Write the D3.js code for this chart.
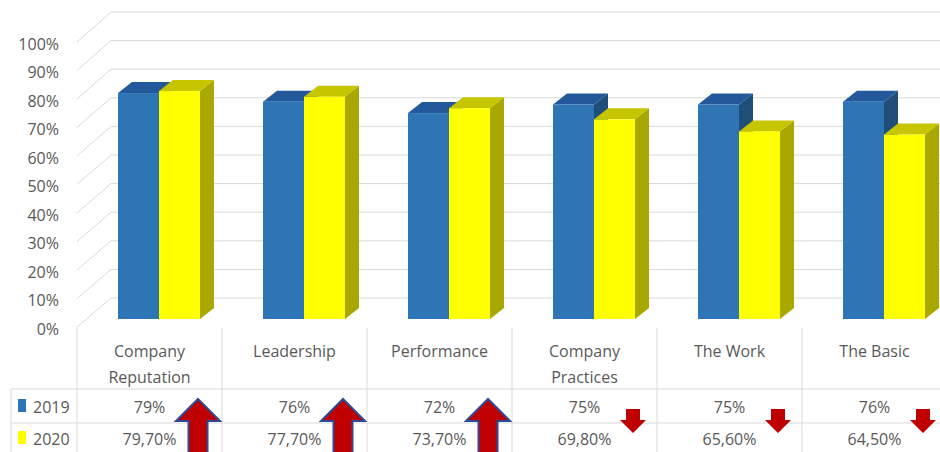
<!DOCTYPE html>
<html>
<head>
<meta charset="utf-8">
<script src="https://cdn.jsdelivr.net/npm/d3@7"></script>
<style>
  body { margin: 0; background: #fff; }
  text { font-family: "Open Sans", "DejaVu Sans", sans-serif; fill: #595959; }
</style>
</head>
<body>
<svg width="940" height="452"></svg>
<script>
const categories = ['Company Reputation', 'Leadership', 'Performance', 'Company Practices', 'The Work', 'The Basic'];
const catLines = [['Company', 'Reputation'], ['Leadership'], ['Performance'], ['Company', 'Practices'], ['The Work'], ['The Basic']];
const series = ['2019', '2020'];
const values2019 = [79, 76, 72, 75, 75, 76];
const values2020 = [79.7, 77.7, 73.7, 69.8, 65.6, 64.5];
const labels2019 = ['79%', '76%', '72%', '75%', '75%', '76%'];
const labels2020 = ['79,70%', '77,70%', '73,70%', '69,80%', '65,60%', '64,50%'];
const yTicks = [0, 10, 20, 30, 40, 50, 60, 70, 80, 90, 100];

const svg = d3.select('svg');
const width = +svg.attr('width');

const colors = {
  '2019': { front: '#2E75B6', top: '#23599A', side: '#1F4E79' },
  '2020': { front: '#FFFF00', top: '#C6C600', side: '#A8A800' }
};

// 3D-ish layout: front edge, back wall and the plane where the bars stand
const yFront = d3.scaleLinear().domain([0, 100]).range([327, 42]);
const yBack = d3.scaleLinear().domain([0, 100]).range([298, 12]);
const yBar = d3.scaleLinear().domain([0, 100]).range([319, 33]);
const frontX = 77, backX = 111;
const depth = { dx: 14, dy: -11 };

const x = d3.scaleBand().domain(categories).range([77, 947]);
const xs = d3.scaleBand().domain(series).range([0, 82]);
const barShift = (x.bandwidth() - 82) / 2 + 9.5;

const grid = svg.append('g').attr('stroke', '#D9D9D9').attr('fill', 'none');
yTicks.forEach(t => {
  grid.append('path')
    .attr('d', `M${frontX},${yFront(t)}L${backX},${yBack(t)}L${width},${yBack(t)}`);
});

svg.append('g').selectAll('text').data(yTicks).join('text')
  .attr('x', 59).attr('y', d => yFront(d) + 2)
  .attr('text-anchor', 'end').attr('dy', '0.35em')
  .style('font-size', '16px')
  .text(d => d + '%');

// bars
const barData = [];
categories.forEach((c, i) => {
  barData.push({ cat: c, s: '2019', v: values2019[i] });
  barData.push({ cat: c, s: '2020', v: values2020[i] });
});

const bars = svg.append('g').selectAll('g').data(barData).join('g');
bars.each(function(d) {
  const g = d3.select(this);
  const x0 = x(d.cat) + barShift + xs(d.s);
  const x1 = x0 + xs.bandwidth();
  const yt = yBar(d.v), yb = yBar(0);
  const { dx, dy } = depth;
  g.append('path')
    .attr('d', `M${x1},${yt}L${x1 + dx},${yt + dy}L${x1 + dx},${yb + dy}L${x1},${yb}Z`)
    .attr('fill', colors[d.s].side);
  g.append('path')
    .attr('d', `M${x0},${yt}L${x0 + dx},${yt + dy}L${x1 + dx},${yt + dy}L${x1},${yt}Z`)
    .attr('fill', colors[d.s].top);
  g.append('rect')
    .attr('x', x0).attr('y', yt)
    .attr('width', xs.bandwidth()).attr('height', yb - yt)
    .attr('fill', colors[d.s].front);
});

// data table
const table = svg.append('g').attr('stroke', '#D9D9D9');
categories.forEach(c => {
  table.append('line').attr('x1', x(c)).attr('x2', x(c)).attr('y1', 328).attr('y2', 452);
});
table.append('line').attr('x1', 11).attr('x2', 11).attr('y1', 389).attr('y2', 452);
[389, 423].forEach(y => {
  table.append('line').attr('x1', 11).attr('x2', width).attr('y1', y).attr('y2', y);
});

const heads = svg.append('g').selectAll('text').data(categories).join('text')
  .attr('x', d => x(d) + x.bandwidth() / 2)
  .attr('text-anchor', 'middle')
  .style('font-size', '16px');
heads.each(function(d, i) {
  d3.select(this).selectAll('tspan').data(catLines[i]).join('tspan')
    .attr('x', x(d) + x.bandwidth() / 2)
    .attr('y', (l, j) => 357 + j * 26)
    .text(l => l);
});

const rows = [
  { s: '2019', labels: labels2019, y: 413 },
  { s: '2020', labels: labels2020, y: 445 }
];
rows.forEach(r => {
  svg.append('g').selectAll('text').data(categories).join('text')
    .attr('x', d => x(d) + x.bandwidth() / 2)
    .attr('y', r.y)
    .attr('text-anchor', 'middle')
    .style('font-size', '16px')
    .text((d, i) => r.labels[i]);
  svg.append('rect')
    .attr('x', 18).attr('y', r.y - 14).attr('width', 8).attr('height', 13)
    .attr('fill', colors[r.s].front);
  svg.append('text')
    .attr('x', 33).attr('y', r.y)
    .style('font-size', '16px')
    .text(r.s);
});

// change arrows
const arrows = svg.append('g');
categories.forEach((c, i) => {
  const cx = x(c) + 121;
  if (values2020[i] > values2019[i]) {
    arrows.append('path')
      .attr('d', `M${cx},399L${cx + 22},421L${cx + 9.5},421L${cx + 9.5},462L${cx - 9.5},462L${cx - 9.5},421L${cx - 22},421Z`)
      .attr('fill', '#C00000').attr('stroke', '#2F4A94').attr('stroke-width', 2);
  } else {
    arrows.append('path')
      .attr('d', `M${cx - 7},409L${cx + 7},409L${cx + 7},420L${cx + 13},420L${cx},433L${cx - 13},420L${cx - 7},420Z`)
      .attr('fill', '#C00000');
  }
});
</script>
</body>
</html>
